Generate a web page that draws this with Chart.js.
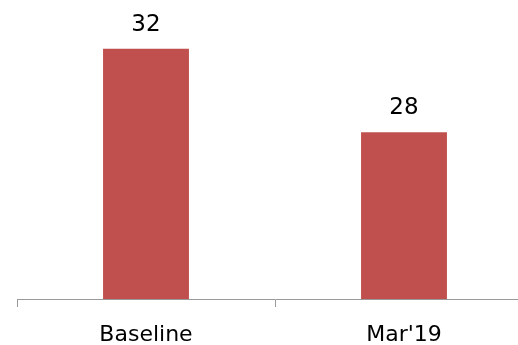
<!DOCTYPE html>
<html>
<head>
<meta charset="utf-8">
<script src="https://cdn.jsdelivr.net/npm/chart.js@4/dist/chart.umd.min.js"></script>
<style>
html,body{margin:0;padding:0;background:#fff;overflow:hidden;}
#wrap{width:518px;height:345px;overflow:hidden;position:relative;}
canvas{display:block;}
</style>
</head>
<body>
<div id="wrap"><canvas id="c" width="534" height="345"></canvas></div>
<script>
const categories = ["Baseline", "Mar'19"];
const values = [32, 28];
const yMin = 20;
const yMax = 34;

const labelPlugin = {
  id: 'valueLabels',
  afterDatasetsDraw(chart) {
    const ctx = chart.ctx;
    const meta = chart.getDatasetMeta(0);
    ctx.save();
    ctx.fillStyle = '#000';
    ctx.font = '23px "DejaVu Sans"';
    ctx.textAlign = 'center';
    ctx.textBaseline = 'alphabetic';
    meta.data.forEach((bar, i) => {
      ctx.fillText(String(values[i]), bar.x, bar.y - 18);
    });
    ctx.restore();
  }
};

new Chart(document.getElementById('c'), {
  type: 'bar',
  data: {
    labels: categories,
    datasets: [{
      data: values,
      backgroundColor: '#C0504D',
      borderWidth: 0,
      categoryPercentage: 1,
      barPercentage: 0.333
    }]
  },
  options: {
    responsive: false,
    animation: false,
    devicePixelRatio: 1,
    layout: { padding: { left: 17, right: 1, top: 7, bottom: 0 } },
    plugins: { legend: { display: false }, tooltip: { enabled: false } },
    scales: {
      y: { display: false, min: yMin, max: yMax },
      x: {
        afterFit(s) { s.height = 46; },
        grid: { display: true, drawOnChartArea: false, drawTicks: true, tickLength: 8, color: '#9a9a9a', offset: true },
        border: { display: true, color: '#9a9a9a', width: 1 },
        ticks: { color: '#000', padding: 15, font: { family: 'DejaVu Sans', size: 22 } }
      }
    }
  },
  plugins: [labelPlugin]
});
</script>
</body>
</html>
